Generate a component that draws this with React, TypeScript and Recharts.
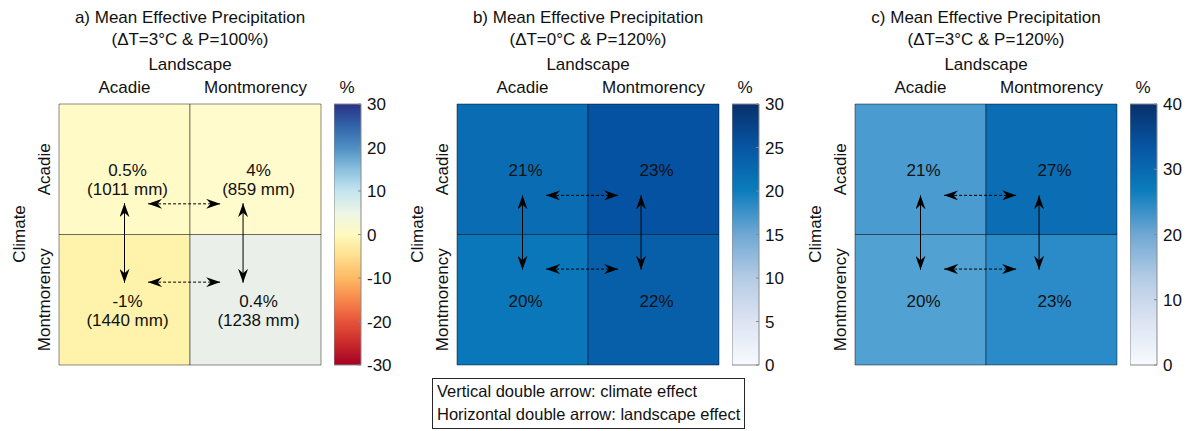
import {
  BarChart,
  Bar,
  Cell,
  XAxis,
  YAxis,
  ReferenceLine,
  LabelList,
  ScatterChart,
} from "recharts";

const FONT = '"Liberation Sans", Arial, Helvetica, sans-serif';
const INK = "#111";

// column categories (landscape) and row categories (climate, top to bottom)
const landscapes = ["Acadie", "Montmorency"];
const climates = ["Acadie", "Montmorency"];

// mean effective precipitation change, indexed [climate][landscape]
const changeA = [
  [0.5, 4],
  [-1, 0.4],
];
const precipA = [
  [1011, 859],
  [1440, 1238],
];
const changeB = [
  [21, 23],
  [20, 22],
];
const changeC = [
  [21, 27],
  [20, 23],
];

const ticksA = [-30, -20, -10, 0, 10, 20, 30];
const ticksB = [0, 5, 10, 15, 20, 25, 30];
const ticksC = [0, 10, 20, 30, 40];

// cell colours, same [climate][landscape] layout
const fillsA = [
  ["#FFFAC6", "#FFFBCC"],
  ["#FFF2AA", "#EAF0E9"],
];
const fillsB = [
  ["#0A6DB3", "#0652A2"],
  ["#0A77BA", "#075FAA"],
];
const fillsC = [
  ["#4A9BD0", "#0B6DB4"],
  ["#51A1D2", "#2B8BC8"],
];

// colormap stops, bottom (0) to top (1)
const rdylbu = [
  [0, "#A50026"],
  [0.08, "#C8282A"],
  [0.17, "#E8553A"],
  [0.25, "#F7884C"],
  [0.33, "#FDB863"],
  [0.42, "#FEE08F"],
  [0.5, "#FFFABF"],
  [0.58, "#EEF6E6"],
  [0.67, "#C2E3EF"],
  [0.75, "#8BC0DD"],
  [0.83, "#4F90C4"],
  [0.92, "#3162A8"],
  [1, "#2A3288"],
];
const blues = [
  [0, "#F7FBFF"],
  [0.17, "#DCE3F2"],
  [0.33, "#B5CCE5"],
  [0.5, "#6FA8D4"],
  [0.67, "#0A7CBC"],
  [0.83, "#0756A4"],
  [1, "#08306B"],
];

// double arrows in cell units: [x1, y1, x2, y2, dashed]
type Arrow = [number, number, number, number, boolean];
const arrowsA: Arrow[] = [
  [0.5, 1.24, 0.5, 0.63, false],
  [1.405, 1.24, 1.405, 0.63, false],
  [0.68, 1.235, 1.23, 1.235, true],
  [0.68, 0.635, 1.23, 0.635, true],
];
const arrowsBC: Arrow[] = [
  [0.5, 1.3, 0.5, 0.73, false],
  [1.405, 1.3, 1.405, 0.73, false],
  [0.68, 1.3, 1.23, 1.3, true],
  [0.68, 0.735, 1.23, 0.735, true],
];

const panels = [
  {
    id: "a",
    left: 0,
    title: "a) Mean Effective Precipitation",
    scenario: "(\u0394T=3\u00B0C & P=100%)",
    change: changeA,
    precip: precipA,
    fills: fillsA,
    ticks: ticksA,
    gradient: "grad-rdylbu",
    arrows: arrowsA,
  },
  {
    id: "b",
    left: 398,
    title: "b) Mean Effective Precipitation",
    scenario: "(\u0394T=0\u00B0C & P=120%)",
    change: changeB,
    precip: undefined,
    fills: fillsB,
    ticks: ticksB,
    gradient: "grad-blues",
    arrows: arrowsBC,
  },
  {
    id: "c",
    left: 796,
    title: "c) Mean Effective Precipitation",
    scenario: "(\u0394T=3\u00B0C & P=120%)",
    change: changeC,
    precip: undefined,
    fills: fillsC,
    ticks: ticksC,
    gradient: "grad-blues",
    arrows: arrowsBC,
  },
];

const W = 1189;
const H = 431;
const FS = 17;
const PANEL_W = 398;
// plot box of each heatmap inside its panel
const PLOT = { top: 104, right: 77, bottom: 66, left: 59 };

function cellRows(change: number[][]) {
  return landscapes.map((name, j) => ({
    landscape: name,
    top: 1,
    bottom: 1,
    topChange: change[0][j],
    bottomChange: change[1][j],
  }));
}

const cellLabel = (precip: number[] | undefined) => (props: any) => {
  const vb = props.viewBox ?? props;
  const cx = vb.x + vb.width / 2 + 3;
  const cy = vb.y + vb.height / 2 + 7;
  return (
    <text fontFamily={FONT} fontSize={FS} fill={INK} textAnchor="middle">
      <tspan x={cx} y={cy}>{`${props.value}%`}</tspan>
      {precip && (
        <tspan x={cx} y={cy + 19}>{`(${precip[props.index]} mm)`}</tspan>
      )}
    </text>
  );
};

const arrowShape = (dashed: boolean) => (p: any) => (
  <line
    x1={p.x1}
    y1={p.y1}
    x2={p.x2}
    y2={p.y2}
    stroke="#000"
    strokeWidth={1}
    strokeDasharray={dashed ? "3 2" : undefined}
    markerStart="url(#arrow-head)"
    markerEnd="url(#arrow-head)"
  />
);

const RowTick = (props: any) => {
  const { x, y, payload } = props;
  return (
    <text
      x={x}
      y={y}
      transform={`rotate(-90 ${x} ${y})`}
      textAnchor="middle"
      fontFamily={FONT}
      fontSize={FS}
      fill={INK}
    >
      {climates[Math.floor(2 - payload.value)]}
    </text>
  );
};

const ColorbarTick = (props: any) => {
  const { x, y, payload } = props;
  return (
    <g>
      <line x1={x - 9} x2={x - 6} y1={y} y2={y} stroke="#888" />
      <text x={x} y={y} dy="0.36em" textAnchor="start" fontFamily={FONT} fontSize={FS} fill={INK}>
        {payload.value}
      </text>
    </g>
  );
};

type Panel = (typeof panels)[number];

function Heatmap({ panel }: { panel: Panel }) {
  const rows = cellRows(panel.change);
  return (
    <div style={{ position: "absolute", left: panel.left, top: 0 }}>
      <BarChart
        width={PANEL_W}
        height={H}
        data={rows}
        margin={{ top: PLOT.top - 30, right: PLOT.right, bottom: PLOT.bottom, left: PLOT.left - 30 }}
        barCategoryGap={0}
        barGap={0}
      >
        <XAxis
          dataKey="landscape"
          orientation="top"
          height={30}
          axisLine={false}
          tickLine={false}
          tickSize={0}
          tickMargin={11}
          tick={{ fill: INK, fontSize: FS, fontFamily: FONT }}
          interval={0}
        />
        <YAxis
          type="number"
          domain={[0, 2]}
          ticks={[0.5, 1.5]}
          width={30}
          axisLine={false}
          tickLine={false}
          tickSize={0}
          tickMargin={9}
          tick={<RowTick />}
        />
        <Bar dataKey="bottom" stackId="cells" isAnimationActive={false} stroke="#000" strokeOpacity={0.45}>
          {rows.map((_, j) => (
            <Cell key={j} fill={panel.fills[1][j]} />
          ))}
          <LabelList dataKey="bottomChange" content={cellLabel(panel.precip?.[1])} />
        </Bar>
        <Bar dataKey="top" stackId="cells" isAnimationActive={false} stroke="#000" strokeOpacity={0.45}>
          {rows.map((_, j) => (
            <Cell key={j} fill={panel.fills[0][j]} />
          ))}
          <LabelList dataKey="topChange" content={cellLabel(panel.precip?.[0])} />
        </Bar>
      </BarChart>
    </div>
  );
}

// effect arrows sit on a numeric 0..2 grid laid over the heatmap
function EffectArrows({ panel }: { panel: Panel }) {
  return (
    <div style={{ position: "absolute", left: panel.left, top: 0 }}>
      <ScatterChart width={PANEL_W} height={H} margin={PLOT}>
        <XAxis type="number" dataKey="x" domain={[0, 2]} hide allowDataOverflow />
        <YAxis type="number" dataKey="y" domain={[0, 2]} hide allowDataOverflow />
        {panel.arrows.map(([x1, y1, x2, y2, dashed], k) => (
          <ReferenceLine
            key={k}
            segment={[
              { x: x1, y: y1 },
              { x: x2, y: y2 },
            ]}
            shape={arrowShape(dashed)}
          />
        ))}
      </ScatterChart>
    </div>
  );
}

function Colorbar({ panel }: { panel: Panel }) {
  const lo = panel.ticks[0];
  const hi = panel.ticks[panel.ticks.length - 1];
  return (
    <div style={{ position: "absolute", left: panel.left + 334, top: 0 }}>
      <BarChart
        width={80}
        height={H}
        data={[{ name: "scale", span: [lo, hi] }]}
        margin={{ top: PLOT.top, right: 13, bottom: PLOT.bottom, left: 0 }}
        barCategoryGap={0}
      >
        <XAxis dataKey="name" hide />
        <YAxis
          orientation="right"
          type="number"
          domain={[lo, hi]}
          ticks={panel.ticks}
          width={40}
          axisLine={false}
          tickLine={false}
          tickSize={0}
          tickMargin={6}
          tick={<ColorbarTick />}
        />
        <Bar
          dataKey="span"
          isAnimationActive={false}
          fill={`url(#${panel.gradient})`}
          stroke="#8a8a8a"
          strokeWidth={1}
        />
      </BarChart>
    </div>
  );
}

function Gradient({ id, stops }: { id: string; stops: (string | number)[][] }) {
  return (
    <linearGradient id={id} x1="0" y1="1" x2="0" y2="0">
      {stops.map(([o, c]) => (
        <stop key={o} offset={o as number} stopColor={c as string} />
      ))}
    </linearGradient>
  );
}

export default function App() {
  const textProps = { fontFamily: FONT, fontSize: FS, fill: INK };
  return (
    <div
      style={{
        position: "absolute",
        left: 0,
        top: 0,
        width: W,
        height: H,
        background: "#fff",
        overflow: "hidden",
      }}
    >
      <svg width={0} height={0} style={{ position: "absolute" }}>
        <defs>
          <Gradient id="grad-rdylbu" stops={rdylbu} />
          <Gradient id="grad-blues" stops={blues} />
          <marker
            id="arrow-head"
            viewBox="0 0 14 10"
            refX={14}
            refY={5}
            markerWidth={14}
            markerHeight={10}
            markerUnits="userSpaceOnUse"
            orient="auto-start-reverse"
          >
            <path d="M0,0 L14,5 L0,10 L4.5,5 Z" fill="#000" />
          </marker>
        </defs>
      </svg>

      {panels.map((p) => (
        <Heatmap key={p.id} panel={p} />
      ))}
      {panels.map((p) => (
        <EffectArrows key={p.id} panel={p} />
      ))}
      {panels.map((p) => (
        <Colorbar key={p.id} panel={p} />
      ))}

      <svg
        width={W}
        height={H}
        style={{ position: "absolute", left: 0, top: 0, pointerEvents: "none" }}
      >
        {panels.map((p) => (
          <g key={p.id} transform={`translate(${p.left},0)`}>
            <text x={190} y={23} textAnchor="middle" {...textProps}>
              {p.title}
            </text>
            <text x={190} y={45} textAnchor="middle" {...textProps}>
              {p.scenario}
            </text>
            <text x={190} y={70} textAnchor="middle" {...textProps}>
              Landscape
            </text>
            <text x={347} y={93} textAnchor="middle" {...textProps}>
              %
            </text>
            <text
              x={25}
              y={234}
              transform="rotate(-90 25 234)"
              textAnchor="middle"
              {...textProps}
            >
              Climate
            </text>
          </g>
        ))}
        <rect x={432.5} y={378.5} width={312} height={50} fill="#fff" stroke="#262626" />
        <text x={437} y={397} {...textProps} fontSize={16.5}>
          Vertical double arrow: climate effect
        </text>
        <text x={437} y={420} {...textProps} fontSize={16.5}>
          Horizontal double arrow: landscape effect
        </text>
      </svg>
    </div>
  );
}
